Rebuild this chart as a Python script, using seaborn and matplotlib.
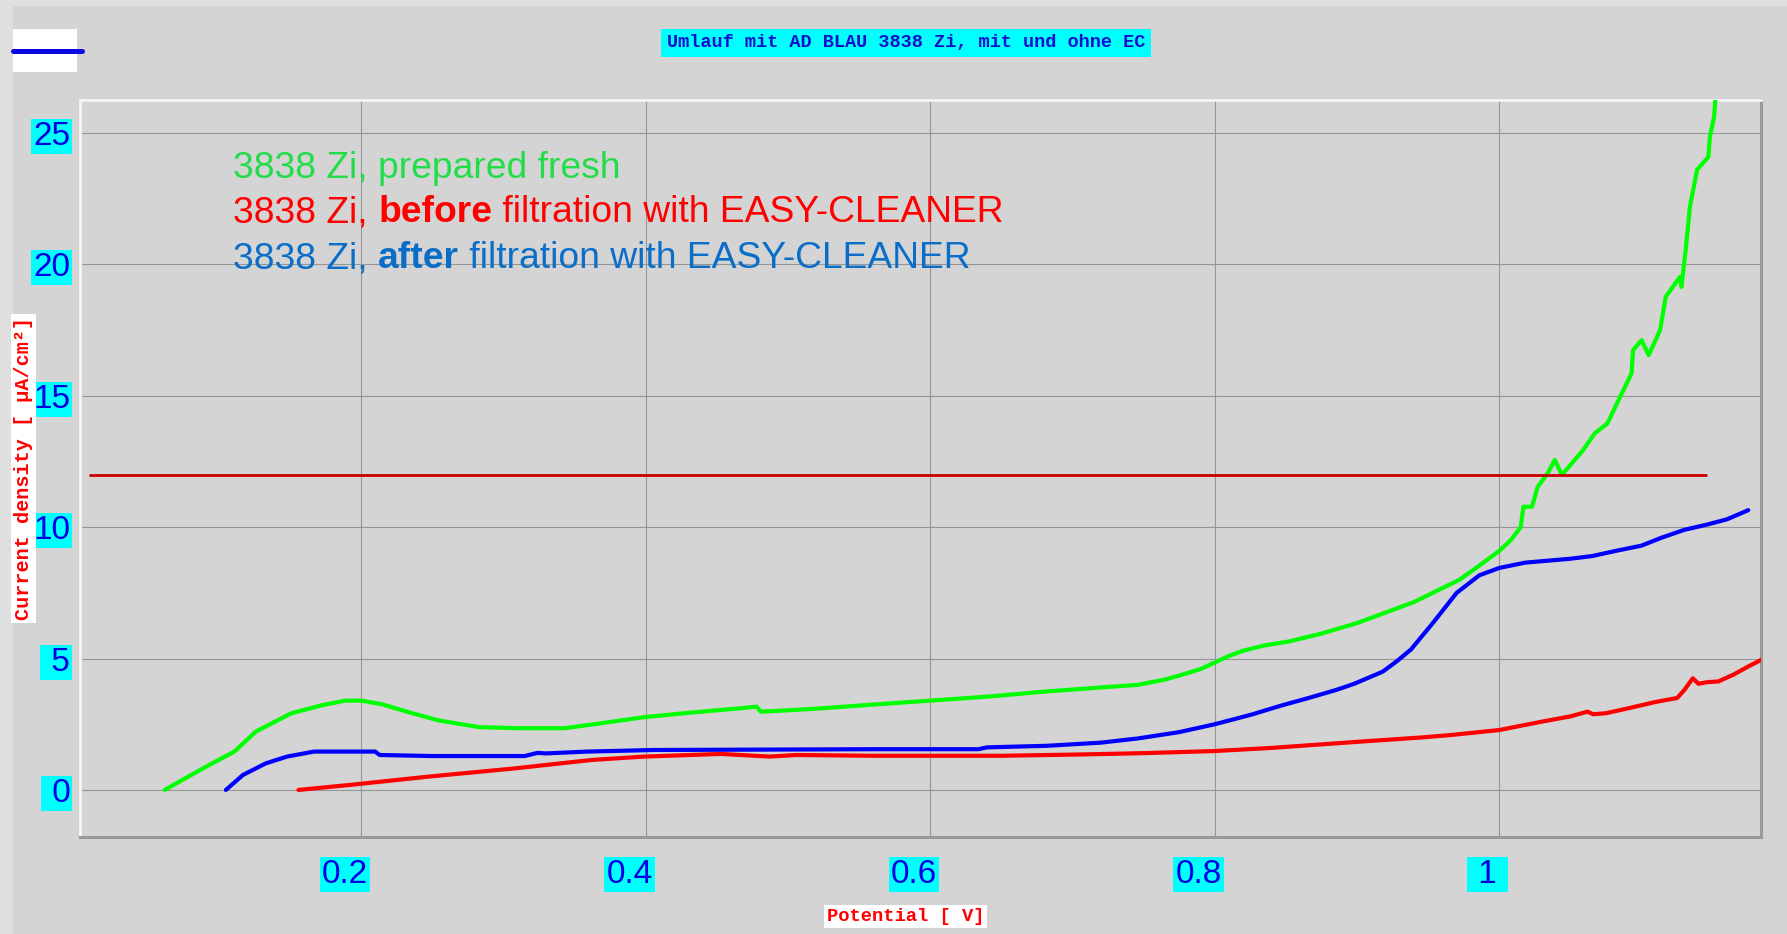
import matplotlib
matplotlib.use('Agg')
import matplotlib.pyplot as plt
import matplotlib.transforms as mtransforms
from matplotlib.patches import Rectangle
from matplotlib.lines import Line2D
import numpy as np
import pandas as pd
import seaborn as sns

# readings: potential [V] / current density [uA/cm2]
fresh_v = [0.062, 0.08, 0.095, 0.111, 0.126, 0.151, 0.173, 0.189, 0.2, 0.214, 0.236, 0.255,
           0.283, 0.31, 0.343, 0.365, 0.399, 0.431, 0.469, 0.478, 0.481, 0.503, 0.522, 0.56,
           0.6, 0.64, 0.682, 0.72, 0.746, 0.765, 0.778, 0.79, 0.8, 0.81, 0.82, 0.835, 0.852,
           0.875, 0.9, 0.92, 0.94, 0.955, 0.972, 0.985, 1.0, 1.008, 1.015, 1.017, 1.023, 1.027,
           1.034, 1.039, 1.044, 1.059, 1.067, 1.076, 1.085, 1.093, 1.094, 1.1, 1.105, 1.113,
           1.117, 1.127, 1.128, 1.131, 1.134, 1.139, 1.147, 1.148, 1.151, 1.152]
fresh_i = [0.0, 0.55, 1.0, 1.46, 2.22, 2.92, 3.23, 3.4, 3.4, 3.27, 2.92, 2.64,
           2.39, 2.35, 2.35, 2.51, 2.77, 2.94, 3.12, 3.17, 2.98, 3.04, 3.1, 3.25,
           3.4, 3.55, 3.75, 3.9, 4.0, 4.2, 4.4, 4.6, 4.85, 5.1, 5.3, 5.5, 5.65,
           5.95, 6.35, 6.75, 7.15, 7.55, 8.0, 8.5, 9.1, 9.5, 10.0, 10.78, 10.78, 11.54,
           12.05, 12.56, 11.99, 12.94, 13.57, 13.95, 14.97, 15.86, 16.74, 17.12, 16.55, 17.5,
           18.77, 19.53, 19.15, 20.55, 22.2, 23.6, 24.1, 24.86, 25.62, 26.4]

before_v = [0.156, 0.192, 0.248, 0.308, 0.362, 0.399, 0.453, 0.487, 0.506, 0.56, 0.6, 0.65,
            0.706, 0.75, 0.8, 0.84, 0.866, 0.9, 0.946, 0.966, 1.0, 1.03, 1.05, 1.062, 1.066,
            1.075, 1.09, 1.11, 1.125, 1.13, 1.136, 1.14, 1.146, 1.154, 1.165, 1.175, 1.184]
before_i = [0.0, 0.19, 0.51, 0.82, 1.14, 1.27, 1.37, 1.27, 1.33, 1.3, 1.3, 1.3,
            1.35, 1.4, 1.48, 1.6, 1.7, 1.83, 2.0, 2.09, 2.28, 2.6, 2.8, 2.98, 2.88,
            2.92, 3.1, 3.35, 3.5, 3.8, 4.25, 4.04, 4.1, 4.13, 4.4, 4.7, 4.95]

after_v = [0.105, 0.117, 0.133, 0.148, 0.167, 0.21, 0.213, 0.25, 0.315, 0.324, 0.33, 0.359,
           0.406, 0.506, 0.56, 0.634, 0.64, 0.682, 0.72, 0.746, 0.775, 0.8, 0.826, 0.846,
           0.866, 0.885, 0.898, 0.918, 0.928, 0.938, 0.954, 0.97, 0.986, 1.0, 1.018, 1.05,
           1.065, 1.082, 1.1, 1.114, 1.13, 1.146, 1.16, 1.175]
after_i = [0.0, 0.57, 1.01, 1.27, 1.46, 1.46, 1.33, 1.29, 1.29, 1.41, 1.39, 1.46,
           1.52, 1.54, 1.55, 1.55, 1.62, 1.68, 1.8, 1.96, 2.2, 2.5, 2.87, 3.2,
           3.5, 3.8, 4.04, 4.5, 4.9, 5.35, 6.4, 7.5, 8.17, 8.45, 8.65, 8.8,
           8.9, 9.1, 9.3, 9.6, 9.9, 10.1, 10.3, 10.65]

limit_value = 12
limit_span = [0.009, 1.146]

x_ticks = [0.2, 0.4, 0.6, 0.8, 1.0]
x_tick_labels = ['0.2', '0.4', '0.6', '0.8', ' 1 ']
y_ticks = [0, 5, 10, 15, 20, 25]
y_tick_labels = [' 0', ' 5', '10', '15', '20', '25']

title = 'Umlauf mit AD BLAU 3838 Zi, mit und ohne EC'
label_lines = [
    ('#22dd4a', ['3838 Zi, prepared fresh'], [False]),
    ('#ff0000', ['3838 Zi, ', 'before', ' filtration with EASY-CLEANER'], [False, True, False]),
    ('#0a6ec8', ['3838 Zi, ', 'after', ' filtration with EASY-CLEANER'], [False, True, False]),
]

bg = '#d4d4d4'
sns.set_style('whitegrid', rc={'axes.facecolor': bg, 'figure.facecolor': bg,
                               'grid.color': '#959595', 'grid.linewidth': 2.0})
plt.rcParams['font.family'] = ['Liberation Sans', 'DejaVu Sans']

fig = plt.figure(figsize=(17.87, 9.34), dpi=100)
ax = fig.add_axes([0.0448, 0.1039, 0.9407, 0.789])

# light outer strips
fig.add_artist(Rectangle((0, 0), 13 / 1787, 1, transform=fig.transFigure,
                         facecolor='#dfdfdf', edgecolor='none', zorder=0))
fig.add_artist(Rectangle((0, 1 - 6 / 934), 1, 6 / 934, transform=fig.transFigure,
                         facecolor='#dfdfdf', edgecolor='none', zorder=0))
# small white swatch with blue line at top left
fig.add_artist(Rectangle((13 / 1787, 1 - 72 / 934), 64 / 1787, 43 / 934,
                         transform=fig.transFigure, facecolor='white', edgecolor='none'))
fig.add_artist(Line2D([13 / 1787, 82 / 1787], [1 - 51 / 934, 1 - 51 / 934],
                      transform=fig.transFigure, color='#0a0ae0', lw=3.6))

sns.lineplot(x=fresh_v, y=fresh_i, ax=ax, color='#00ff00', lw=3, sort=False,
             estimator=None, zorder=3)
sns.lineplot(x=after_v, y=after_i, ax=ax, color='#0000ff', lw=3, sort=False,
             estimator=None, zorder=3)
sns.lineplot(x=before_v, y=before_i, ax=ax, color='#ff0000', lw=3, sort=False,
             estimator=None, zorder=3)
ax.hlines(limit_value, limit_span[0], limit_span[1], color='#c80000', lw=2, zorder=4)

ax.set_xlim(0.0025, 1.184)
ax.set_ylim(-1.79, 26.26)
ax.grid(True)

ax.set_xticks(x_ticks)
ax.set_xticklabels(x_tick_labels)
ax.set_yticks(y_ticks)
ax.set_yticklabels(y_tick_labels)
ax.tick_params(axis='both', length=0, colors='#0000e6', labelsize=24)
ax.tick_params(axis='x', pad=16)
ax.tick_params(axis='y', pad=7)
shift = mtransforms.ScaledTranslation(7 / 100, 0, fig.dpi_scale_trans)
for lbl in ax.get_xticklabels():
    lbl.set_ha('right')
    lbl.set_transform(lbl.get_transform() + shift)
    lbl.set_bbox(dict(facecolor='#00ffff', edgecolor='none', pad=1.5))
for lbl in ax.get_yticklabels():
    lbl.set_bbox(dict(facecolor='#00ffff', edgecolor='none', pad=1.5))

for side in ['top', 'left']:
    ax.spines[side].set_color('#f6f6f6')
    ax.spines[side].set_linewidth(2)
for side in ['bottom', 'right']:
    ax.spines[side].set_color('#999999')
    ax.spines[side].set_linewidth(2.2)

mono = ['Liberation Mono', 'DejaVu Sans Mono']
ax.set_xlabel('Potential [ V]', color='#ff0000', fontsize=13.5, family=mono,
              fontweight='bold', va='center',
              bbox=dict(facecolor='white', edgecolor='none', pad=2))
ax.xaxis.set_label_coords(0.491, -0.108)
ax.set_ylabel('Current density [ µA/cm²]', color='#ff0000', fontsize=14.5, family=mono,
              fontweight='bold', va='center',
              bbox=dict(facecolor='white', edgecolor='none', pad=2))
ax.yaxis.set_label_coords(-0.0335, 0.5)

fig.text(0.507, 0.954, title, ha='center', va='center', color='#1010d0', fontsize=13.4,
         family=mono, fontweight='bold',
         bbox=dict(facecolor='#00ffff', edgecolor='none', pad=4))

# coloured inline labels, with bold words
base_y = [0.894, 0.834, 0.772]
for (col, parts, bolds), yy in zip(label_lines, base_y):
    prev = ax.text(0.091, yy, parts[0], transform=ax.transAxes, color=col, fontsize=26.8,
                   fontweight='bold' if bolds[0] else 'normal', va='baseline', zorder=5)
    for part, b in zip(parts[1:], bolds[1:]):
        prev = ax.annotate(part, xy=(1, 0), xycoords=prev, color=col, fontsize=26.8,
                           fontweight='bold' if b else 'normal', va='bottom', zorder=5)

fig.savefig('out.png', dpi=100, facecolor=bg)
